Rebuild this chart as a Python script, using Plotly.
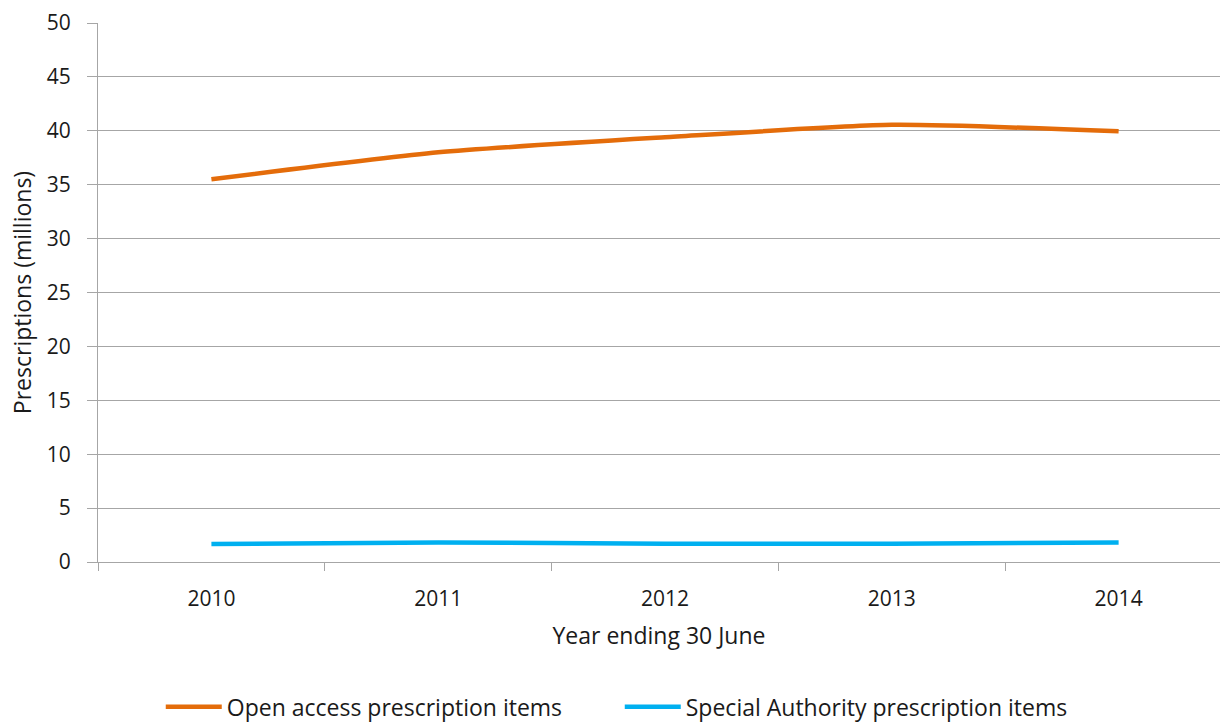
import plotly.graph_objects as go

years = ["2010", "2011", "2012", "2013", "2014"]
open_access = [35.5, 38.0, 39.4, 40.55, 39.95]
special_authority = [1.67, 1.82, 1.7, 1.7, 1.8]

series_names = ["Open access prescription items", "Special Authority prescription items"]
series_colors = ["#E46C0A", "#00B0F0"]

FONT = "Open Sans"

fig = go.Figure()
for name, vals, col in zip(series_names, [open_access, special_authority], series_colors):
    fig.add_trace(go.Scatter(
        x=years, y=vals, name=name, mode="lines",
        line=dict(color=col, width=4.5, shape="spline", smoothing=0.6),
    ))

fig.update_layout(
    width=1220, height=722,
    margin=dict(l=98, r=0, t=23, b=160),
    paper_bgcolor="white", plot_bgcolor="white",
    font=dict(family=FONT, size=21, color="#1a1a1a"),
    showlegend=True,
    legend=dict(
        orientation="h", xref="container", yref="container",
        x=0.508, xanchor="center", y=0.021, yanchor="middle",
        font=dict(size=23), itemwidth=56, tracegroupgap=0,
        entrywidth=388, entrywidthmode="pixels",
    ),
)
fig.update_xaxes(
    type="category", range=[-0.5, 4.447], automargin=False,
    tickson="boundaries", ticks="outside", ticklen=8, tickcolor="#A6A6A6",
    showline=True, linecolor="#A6A6A6", linewidth=1,
    showgrid=False, zeroline=False,
    ticklabelstandoff=18,
    title=dict(text="Year ending 30 June", font=dict(size=23), standoff=16),
)
fig.update_yaxes(
    range=[0, 50], dtick=5, tick0=0, automargin=False,
    ticks="outside", ticklen=10, tickcolor="#A6A6A6",
    showline=True, linecolor="#A6A6A6", linewidth=1,
    showgrid=True, gridcolor="#A6A6A6", gridwidth=1,
    zeroline=False, ticklabelstandoff=12,
    title=dict(text="Prescriptions (millions)", font=dict(size=23), standoff=8),
)

fig.write_html("out.html")
